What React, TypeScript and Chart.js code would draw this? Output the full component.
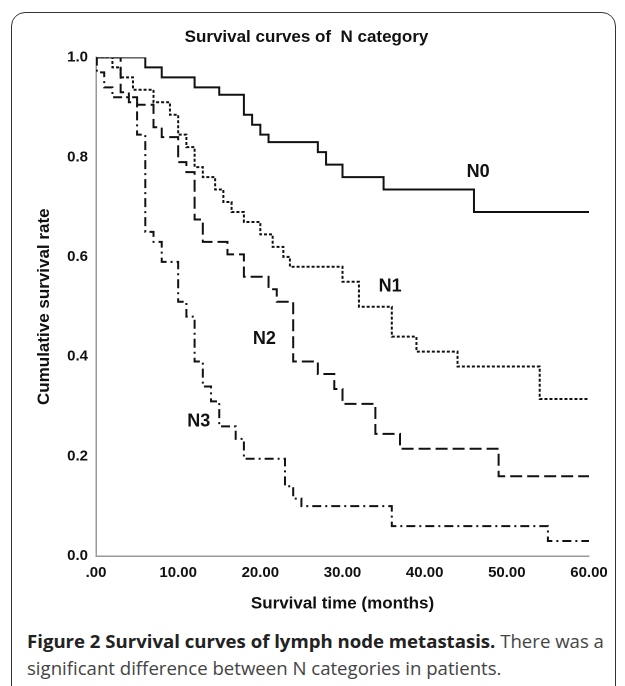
import React, { useRef, useEffect } from 'react';
import { Chart, registerables } from 'chart.js';

Chart.register(...registerables);

// Kaplan-Meier steps: time of drop (months) and survival from that time on
const n0Time = [0, 6, 8, 12, 15, 18, 19, 20, 21, 27, 28, 30, 35, 46, 60];
const n0Rate = [1.0, 0.98, 0.96, 0.94, 0.925, 0.885, 0.865, 0.845, 0.83, 0.81, 0.785, 0.76, 0.735, 0.69, 0.69];

const n1Time = [0, 2, 3, 4.5, 7, 9, 10, 11, 12, 13, 14.5, 15.5, 16.5, 18, 20, 21.5, 22.8, 23.6, 30, 32, 36, 39, 44, 54, 60];
const n1Rate = [1.0, 0.98, 0.96, 0.935, 0.91, 0.885, 0.845, 0.82, 0.78, 0.76, 0.735, 0.71, 0.69, 0.67, 0.645, 0.62, 0.6, 0.58, 0.55, 0.5, 0.44, 0.41, 0.38, 0.315, 0.315];

const n2Time = [0, 3, 4, 5, 7, 8, 10, 11, 12, 13, 16, 18, 21, 22, 24, 27, 29, 30, 34, 37, 49, 60];
const n2Rate = [1.0, 0.93, 0.91, 0.905, 0.86, 0.84, 0.79, 0.77, 0.675, 0.63, 0.605, 0.56, 0.535, 0.51, 0.39, 0.365, 0.335, 0.305, 0.245, 0.215, 0.16, 0.16];

const n3Time = [0, 0.1, 1, 2, 5, 6, 7, 8, 10, 11, 12, 13, 14, 15, 17, 18, 23, 24, 25, 36, 55, 60];
const n3Rate = [1.0, 0.97, 0.94, 0.92, 0.845, 0.65, 0.63, 0.59, 0.51, 0.48, 0.39, 0.34, 0.31, 0.26, 0.235, 0.195, 0.14, 0.115, 0.1, 0.06, 0.03, 0.03];

const curveNames = ['N0', 'N1', 'N2', 'N3'];
const labelPos = [[46.5, 0.76], [35.8, 0.53], [20.5, 0.425], [12.5, 0.26]];
const xTicks = [0, 10, 20, 30, 40, 50, 60];
const yTicks = [0, 0.2, 0.4, 0.6, 0.8, 1.0];

const pts = (t: number[], r: number[]) => t.map((x, i) => ({ x, y: r[i] }));

const curveLabels = {
  id: 'curveLabels',
  afterDatasetsDraw(chart: any) {
    const { ctx, scales } = chart;
    ctx.save();
    ctx.fillStyle = '#111';
    ctx.font = 'bold 18px "Liberation Sans", Arial, sans-serif';
    ctx.textAlign = 'center';
    ctx.textBaseline = 'alphabetic';
    curveNames.forEach((n, i) => {
      ctx.fillText(n, scales.x.getPixelForValue(labelPos[i][0]), scales.y.getPixelForValue(labelPos[i][1]));
    });
    ctx.restore();
  },
};

const App: React.FC = () => {
  const canvasRef = useRef<HTMLCanvasElement>(null);

  useEffect(() => {
    document.body.style.margin = '0';
    if (!canvasRef.current) return;
    const family = '"Liberation Sans", Arial, sans-serif';
    const line = (data: any, dash: number[]) => ({
      data, showLine: true, stepped: true, borderColor: '#111', borderWidth: 2,
      borderDash: dash, pointRadius: 0, fill: false,
    });
    const chart = new Chart(canvasRef.current, {
      type: 'scatter',
      data: {
        datasets: [
          line(pts(n0Time, n0Rate), []),
          line(pts(n1Time, n1Rate), [3, 2]),
          line(pts(n2Time, n2Rate), [12, 5]),
          line(pts(n3Time, n3Rate), [9, 4, 2, 4]),
        ],
      },
      options: {
        animation: false,
        responsive: false,
        devicePixelRatio: 2,
        layout: { padding: { left: 24, right: 36, top: 0, bottom: 2 } },
        plugins: {
          legend: { display: false },
          tooltip: { enabled: false },
          title: {
            display: true, text: 'Survival curves of  N category', color: '#111',
            font: { family, weight: 'bold', size: 17 }, padding: { top: 27, bottom: 10 },
          },
        },
        scales: {
          x: {
            type: 'linear', min: 0, max: 60,
            afterBuildTicks: (s: any) => { s.ticks = xTicks.map((v) => ({ value: v })); },
            afterFit: (s: any) => { s.height = 60; },
            ticks: { color: '#111', font: { family, weight: 'bold', size: 15 }, padding: 3, callback: (v: any) => (v === 0 ? '.00' : Number(v).toFixed(2)) },
            grid: { display: false, drawTicks: true, tickLength: 5, color: '#555' },
            border: { color: '#999', width: 1.5 },
            title: { display: true, text: 'Survival time (months)', color: '#111', font: { family, weight: 'bold', size: 17 }, padding: { top: 4, bottom: 2 } },
          },
          y: {
            type: 'linear', min: 0, max: 1,
            afterBuildTicks: (s: any) => { s.ticks = yTicks.map((v) => ({ value: v })); },
            afterFit: (s: any) => { s.width = 72; },
            ticks: { color: '#111', font: { family, weight: 'bold', size: 15 }, padding: 3, callback: (v: any) => Number(v).toFixed(1) },
            grid: { display: false, drawTicks: true, tickLength: 5, color: '#555' },
            border: { color: '#999', width: 1.5 },
            title: { display: true, text: 'Cumulative survival rate', color: '#111', font: { family, weight: 'bold', size: 17 }, padding: { top: 10, bottom: 0 } },
          },
        },
      },
      plugins: [curveLabels],
    });
    return () => chart.destroy();
  }, []);

  return (
    <div style={{ position: 'relative', width: 625, height: 686, background: '#fff', overflow: 'hidden' }}>
      <div style={{ position: 'absolute', left: 11, top: 12, width: 605, height: 700, border: '1.5px solid #333', borderRadius: 14, boxSizing: 'border-box' }} />
      <canvas ref={canvasRef} width={625} height={618} style={{ position: 'absolute', left: 0, top: 0, width: 625, height: 618 }} />
      <div style={{ position: 'absolute', left: 27, top: 627, width: 598, fontFamily: '"Open Sans", sans-serif', fontSize: 18.6, lineHeight: '27px', color: '#444', whiteSpace: 'nowrap' }}>
        <b style={{ color: '#222' }}>Figure 2 Survival curves of lymph node metastasis.</b> There was a<br />significant difference between N categories in patients.
      </div>
    </div>
  );
};

export default App;
